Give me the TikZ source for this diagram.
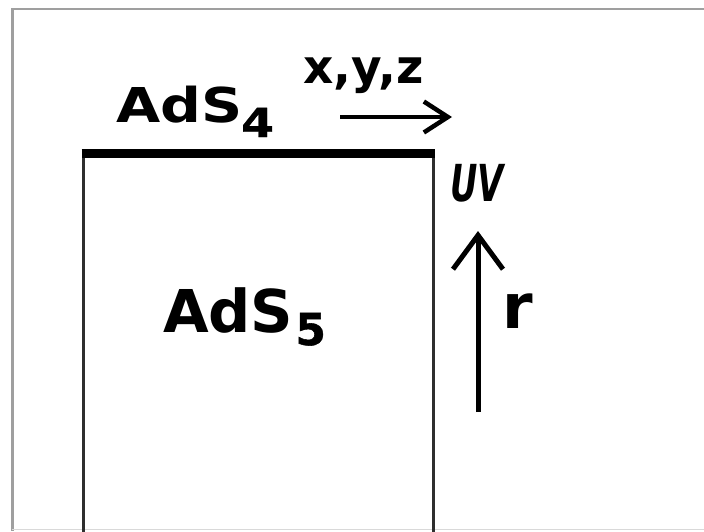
\documentclass[tikz,border=0pt]{standalone}
\usepackage{fontspec}
\setmainfont{DejaVu Sans}
\newfontfamily\subfont{DejaVu Sans}[FakeBold=0.6]
\newfontfamily\subfontheavy{DejaVu Sans}[FakeBold=1.2]
\usetikzlibrary{arrows.meta}

\tikzset{
  label/.style={inner sep=0pt, outer sep=0pt, anchor=base west, text=black},
  frameline/.style={draw=gray!75, line width=2.5pt},
  wall/.style={draw=black!82, line width=3pt},
  boundary/.style={draw=black, line width=9pt},
  dirarrow/.style={draw=black, line width=4.5pt, -{Straight Barb[length=24pt, width=31pt]}},
  radarrow/.style={draw=black, line width=5pt, -{Straight Barb[length=34pt, width=50pt]}}
}

\begin{document}
\begin{tikzpicture}[x=1pt, y=-1pt]
  \useasboundingbox (0,0) rectangle (704,531);
  \fill[white] (0,0) rectangle (704,531);

  % outer frame, open on the right
  \draw[frameline] (706,9) -- (12.5,9) -- (12.5,531);
  \draw[draw=gray!30, line width=1pt] (12,529.5) -- (706,529.5);

  % bulk region: side walls and the thick boundary on top
  \draw[wall] (83,154) -- (83,533);
  \draw[wall] (433,154) -- (433,533);
  \draw[boundary] (81.5,153.5) -- (434.5,153.5);

  % labels
  \node[label] (ads4) at (116,122)
    {\scalebox{1.19}[1]{\fontsize{48}{48}\selectfont\bfseries AdS\kern-1pt\raisebox{-15pt}{\subfont\fontsize{40}{40}\selectfont 4}}};
  \node[label] (ads5) at (163,332)
    {\fontsize{59}{59}\selectfont\bfseries AdS\kern2pt\raisebox{-13pt}{\subfontheavy\fontsize{44}{44}\selectfont 5}};
  \node[label] (xyz) at (303,83) {\fontsize{47}{47}\selectfont\bfseries x,y,z};
  \node[label] (uv) at (450,201) {\scalebox{0.66}[1]{\fontsize{51}{51}\selectfont\bfseries\itshape UV}};
  \node[label] (r) at (502,328) {\fontsize{62}{62}\selectfont\bfseries r};

  % direction arrows
  \coordinate (xs) at (340,117);
  \coordinate (xe) at (452,117);
  \draw[dirarrow] (xs) -- (xe);

  \coordinate (rs) at (478,412);
  \coordinate (re) at (478,231);
  \draw[radarrow] (rs) -- (re);
\end{tikzpicture}
\end{document}
